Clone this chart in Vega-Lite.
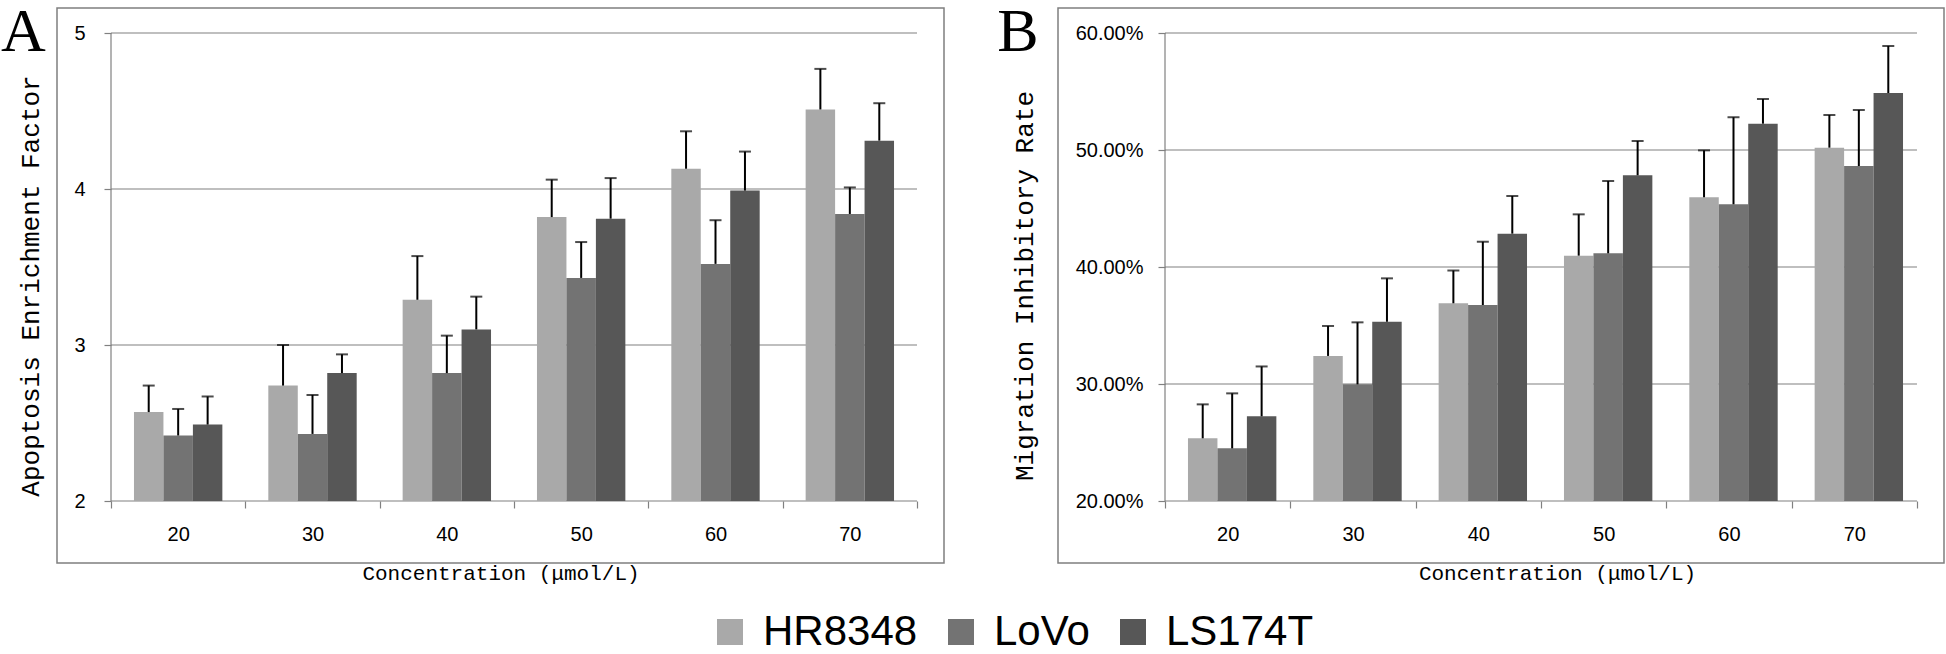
{
  "$schema": "https://vega.github.io/schema/vega-lite/v6.json",
  "padding": {"left": 0, "top": 0, "right": 0, "bottom": 0},
  "background": "white",
  "spacing": 51,
  "datasets": {
    "A": [
      {"conc": "20", "line": "HR8348", "value": 2.57, "upper": 2.74},
      {"conc": "20", "line": "LoVo", "value": 2.42, "upper": 2.59},
      {"conc": "20", "line": "LS174T", "value": 2.49, "upper": 2.67},
      {"conc": "30", "line": "HR8348", "value": 2.74, "upper": 3.0},
      {"conc": "30", "line": "LoVo", "value": 2.43, "upper": 2.68},
      {"conc": "30", "line": "LS174T", "value": 2.82, "upper": 2.94},
      {"conc": "40", "line": "HR8348", "value": 3.29, "upper": 3.57},
      {"conc": "40", "line": "LoVo", "value": 2.82, "upper": 3.06},
      {"conc": "40", "line": "LS174T", "value": 3.1, "upper": 3.31},
      {"conc": "50", "line": "HR8348", "value": 3.82, "upper": 4.06},
      {"conc": "50", "line": "LoVo", "value": 3.43, "upper": 3.66},
      {"conc": "50", "line": "LS174T", "value": 3.81, "upper": 4.07},
      {"conc": "60", "line": "HR8348", "value": 4.13, "upper": 4.37},
      {"conc": "60", "line": "LoVo", "value": 3.52, "upper": 3.8},
      {"conc": "60", "line": "LS174T", "value": 3.99, "upper": 4.24},
      {"conc": "70", "line": "HR8348", "value": 4.51, "upper": 4.77},
      {"conc": "70", "line": "LoVo", "value": 3.84, "upper": 4.01},
      {"conc": "70", "line": "LS174T", "value": 4.31, "upper": 4.55}
    ],
    "B": [
      {"conc": "20", "line": "HR8348", "value": 0.2536, "upper": 0.2826},
      {"conc": "20", "line": "LoVo", "value": 0.245, "upper": 0.292},
      {"conc": "20", "line": "LS174T", "value": 0.2724, "upper": 0.315},
      {"conc": "30", "line": "HR8348", "value": 0.324, "upper": 0.3496},
      {"conc": "30", "line": "LoVo", "value": 0.2997, "upper": 0.3527},
      {"conc": "30", "line": "LS174T", "value": 0.3532, "upper": 0.3903},
      {"conc": "40", "line": "HR8348", "value": 0.369, "upper": 0.397},
      {"conc": "40", "line": "LoVo", "value": 0.3675, "upper": 0.4216},
      {"conc": "40", "line": "LS174T", "value": 0.4285, "upper": 0.4607},
      {"conc": "50", "line": "HR8348", "value": 0.4097, "upper": 0.445},
      {"conc": "50", "line": "LoVo", "value": 0.4117, "upper": 0.4735},
      {"conc": "50", "line": "LS174T", "value": 0.4784, "upper": 0.5077},
      {"conc": "60", "line": "HR8348", "value": 0.4596, "upper": 0.4997},
      {"conc": "60", "line": "LoVo", "value": 0.4536, "upper": 0.528},
      {"conc": "60", "line": "LS174T", "value": 0.5225, "upper": 0.5436},
      {"conc": "70", "line": "HR8348", "value": 0.502, "upper": 0.5299},
      {"conc": "70", "line": "LoVo", "value": 0.4863, "upper": 0.5342},
      {"conc": "70", "line": "LS174T", "value": 0.5487, "upper": 0.5889}
    ]
  },
  "hconcat": [
    {
      "width": 887,
      "height": 555,
      "title": {"text": "A", "font": "Liberation Serif", "fontSize": 62, "fontWeight": "normal", "color": "#000000", "anchor": "start", "frame": "bounds", "orient": "top", "baseline": "top", "offset": -56, "dx": -17},
      "layer": [
        {"data": {"values": [{}]}, "mark": {"type": "rule", "color": "#808080", "strokeWidth": 1.2}, "encoding": {"x": {"datum": "20", "type": "nominal", "bandPosition": 0}, "x2": {"datum": "70", "bandPosition": 1}, "y": {"datum": 2, "type": "quantitative"}}},
        {"data": {"values": [{}]}, "mark": {"type": "rule", "color": "#808080", "strokeWidth": 1.2}, "encoding": {"x": {"datum": "20", "type": "nominal", "bandPosition": 0}, "x2": {"datum": "70", "bandPosition": 1}, "y": {"datum": 3, "type": "quantitative"}}},
        {"data": {"values": [{}]}, "mark": {"type": "rule", "color": "#808080", "strokeWidth": 1.2}, "encoding": {"x": {"datum": "20", "type": "nominal", "bandPosition": 0}, "x2": {"datum": "70", "bandPosition": 1}, "y": {"datum": 4, "type": "quantitative"}}},
        {"data": {"values": [{}]}, "mark": {"type": "rule", "color": "#808080", "strokeWidth": 1.2}, "encoding": {"x": {"datum": "20", "type": "nominal", "bandPosition": 0}, "x2": {"datum": "70", "bandPosition": 1}, "y": {"datum": 5, "type": "quantitative"}}},
        {"data": {"values": [{}]}, "mark": {"type": "rule", "color": "#808080", "strokeWidth": 1.2}, "encoding": {"x": {"datum": "20", "type": "nominal", "bandPosition": 0}, "y": {"datum": 2, "type": "quantitative"}, "y2": {"datum": 5}}},
        {
          "data": {"name": "A"},
          "mark": {"type": "bar"},
          "encoding": {
            "x": {"field": "conc", "type": "nominal", "scale": {"paddingInner": 0, "paddingOuter": 0.3015, "align": 0.6667},
              "axis": {"title": "Concentration (μmol/L)", "orient": "bottom", "offset": -62, "labelPadding": 16, "titlePadding": 18}},
            "xOffset": {"field": "line", "type": "nominal", "sort": ["HR8348", "LoVo", "LS174T"], "scale": {"paddingInner": 0, "paddingOuter": 0.78}},
            "y": {"field": "value", "type": "quantitative", "scale": {"domain": [1.6026, 5.1603], "nice": false, "zero": false},
              "axis": {"title": "Apoptosis Enrichment Factor", "values": [2, 3, 4, 5], "format": "d", "offset": -54, "labelPadding": 19, "titlePadding": 30}},
            "y2": {"datum": 2},
            "color": {"field": "line", "type": "nominal", "sort": ["HR8348", "LoVo", "LS174T"],
              "scale": {"domain": ["HR8348", "LoVo", "LS174T"], "range": ["#a9a9a9", "#737373", "#575757"]},
              "legend": {"orient": "none", "legendX": 652, "legendY": 603, "direction": "horizontal", "title": null, "symbolType": "square", "symbolSize": 676, "symbolStrokeWidth": 0, "labelFont": "Liberation Sans", "labelFontSize": 42, "labelColor": "#000000", "labelOffset": 12, "labelLimit": 0, "columnPadding": 22}}
          }
        },
        {
          "data": {"name": "A"},
          "mark": {"type": "rule", "color": "#000000", "strokeWidth": 2},
          "encoding": {
            "x": {"field": "conc", "type": "nominal"},
            "xOffset": {"field": "line", "type": "nominal", "sort": ["HR8348", "LoVo", "LS174T"]},
            "y": {"field": "value", "type": "quantitative"},
            "y2": {"field": "upper"}
          }
        },
        {
          "data": {"name": "A"},
          "mark": {"type": "tick", "color": "#000000", "thickness": 2, "size": 12},
          "encoding": {
            "x": {"field": "conc", "type": "nominal"},
            "xOffset": {"field": "line", "type": "nominal", "sort": ["HR8348", "LoVo", "LS174T"]},
            "y": {"field": "upper", "type": "quantitative"}
          }
        }
      ]
    },
    {
      "width": 886,
      "height": 555,
      "title": {"text": "B", "font": "Liberation Serif", "fontSize": 62, "fontWeight": "normal", "color": "#000000", "anchor": "start", "frame": "bounds", "orient": "top", "baseline": "top", "offset": -56, "dx": -14},
      "layer": [
        {"data": {"values": [{}]}, "mark": {"type": "rule", "color": "#808080", "strokeWidth": 1.2}, "encoding": {"x": {"datum": "20", "type": "nominal", "bandPosition": 0}, "x2": {"datum": "70", "bandPosition": 1}, "y": {"datum": 0.2, "type": "quantitative"}}},
        {"data": {"values": [{}]}, "mark": {"type": "rule", "color": "#808080", "strokeWidth": 1.2}, "encoding": {"x": {"datum": "20", "type": "nominal", "bandPosition": 0}, "x2": {"datum": "70", "bandPosition": 1}, "y": {"datum": 0.3, "type": "quantitative"}}},
        {"data": {"values": [{}]}, "mark": {"type": "rule", "color": "#808080", "strokeWidth": 1.2}, "encoding": {"x": {"datum": "20", "type": "nominal", "bandPosition": 0}, "x2": {"datum": "70", "bandPosition": 1}, "y": {"datum": 0.4, "type": "quantitative"}}},
        {"data": {"values": [{}]}, "mark": {"type": "rule", "color": "#808080", "strokeWidth": 1.2}, "encoding": {"x": {"datum": "20", "type": "nominal", "bandPosition": 0}, "x2": {"datum": "70", "bandPosition": 1}, "y": {"datum": 0.5, "type": "quantitative"}}},
        {"data": {"values": [{}]}, "mark": {"type": "rule", "color": "#808080", "strokeWidth": 1.2}, "encoding": {"x": {"datum": "20", "type": "nominal", "bandPosition": 0}, "x2": {"datum": "70", "bandPosition": 1}, "y": {"datum": 0.6, "type": "quantitative"}}},
        {"data": {"values": [{}]}, "mark": {"type": "rule", "color": "#808080", "strokeWidth": 1.2}, "encoding": {"x": {"datum": "20", "type": "nominal", "bandPosition": 0}, "y": {"datum": 0.2, "type": "quantitative"}, "y2": {"datum": 0.6}}},
        {
          "data": {"name": "B"},
          "mark": {"type": "bar"},
          "encoding": {
            "x": {"field": "conc", "type": "nominal", "scale": {"paddingInner": 0, "paddingOuter": 0.5346, "align": 0.7985},
              "axis": {"title": "Concentration (μmol/L)", "orient": "bottom", "offset": -62, "labelPadding": 16, "titlePadding": 18, "titleX": 499}},
            "xOffset": {"field": "line", "type": "nominal", "sort": ["HR8348", "LoVo", "LS174T"], "scale": {"paddingInner": 0, "paddingOuter": 0.78}},
            "y": {"field": "value", "type": "quantitative", "scale": {"domain": [0.14701, 0.62137], "nice": false, "zero": false},
              "axis": {"title": "Migration Inhibitory Rate", "values": [0.2, 0.3, 0.4, 0.5, 0.6], "format": ".2%", "offset": -107, "labelPadding": 15, "titlePadding": 38}},
            "y2": {"datum": 0.2},
            "color": {"field": "line", "type": "nominal", "sort": ["HR8348", "LoVo", "LS174T"],
              "scale": {"domain": ["HR8348", "LoVo", "LS174T"], "range": ["#a9a9a9", "#737373", "#575757"]}}
          }
        },
        {
          "data": {"name": "B"},
          "mark": {"type": "rule", "color": "#000000", "strokeWidth": 2},
          "encoding": {
            "x": {"field": "conc", "type": "nominal"},
            "xOffset": {"field": "line", "type": "nominal", "sort": ["HR8348", "LoVo", "LS174T"]},
            "y": {"field": "value", "type": "quantitative"},
            "y2": {"field": "upper"}
          }
        },
        {
          "data": {"name": "B"},
          "mark": {"type": "tick", "color": "#000000", "thickness": 2, "size": 12},
          "encoding": {
            "x": {"field": "conc", "type": "nominal"},
            "xOffset": {"field": "line", "type": "nominal", "sort": ["HR8348", "LoVo", "LS174T"]},
            "y": {"field": "upper", "type": "quantitative"}
          }
        }
      ]
    }
  ],
  "config": {
    "view": {"stroke": "#7f7f7f", "strokeWidth": 1.5},
    "axis": {
      "domain": false,
      "grid": false,
      "tickSize": 7,
      "tickColor": "#808080",
      "tickWidth": 1.2,
      "labelFont": "Liberation Sans",
      "labelFontSize": 20,
      "labelColor": "#000000",
      "titleFont": "Liberation Mono",
      "titleFontWeight": "normal",
      "titleColor": "#000000"
    },
    "axisX": {"labelAngle": 0, "tickBand": "extent", "titleFontSize": 21},
    "axisY": {"titleFontSize": 26}
  }
}
